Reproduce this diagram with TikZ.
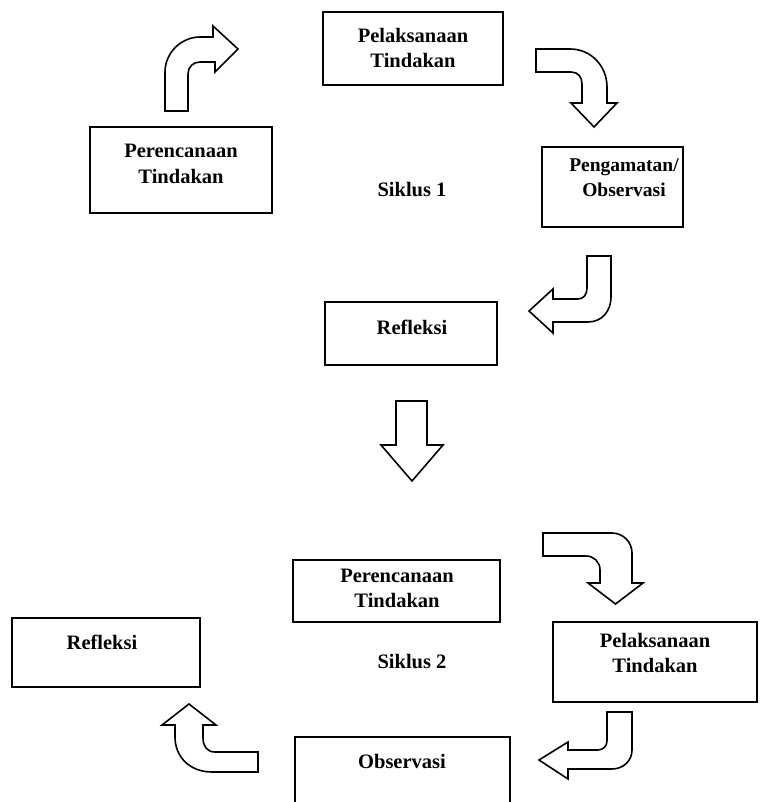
\documentclass[tikz,border=0pt]{standalone}
\usepackage{fontspec}
\setmainfont{Liberation Serif}
\begin{document}
\begin{tikzpicture}[x=1pt,y=-1pt,
  panel/.style={draw=black,line width=1.8pt,fill=white,inner sep=0pt,outer sep=0pt},
  lbl/.style={font=\fontsize{20.5}{25.5}\selectfont\bfseries,align=center,inner sep=0pt},
  barrow/.style={draw=black,line width=1.6pt,fill=white,line join=miter}]
\useasboundingbox (0,0) rectangle (760,802);
\clip (0,0) rectangle (760,802);
\fill[white] (0,0) rectangle (760,802);

% boxes
\node[panel,minimum width=180pt,minimum height=73pt] (b1) at (413,48.5) {};
\node[panel,minimum width=182pt,minimum height=86pt] (b2) at (181,170) {};
\node[panel,minimum width=141pt,minimum height=80pt] (b3) at (612.5,187) {};
\node[panel,minimum width=172pt,minimum height=63pt] (b4) at (411,333.5) {};
\node[panel,minimum width=207pt,minimum height=62pt] (b5) at (396.5,591) {};
\node[panel,minimum width=204pt,minimum height=80pt] (b6) at (655,662) {};
\node[panel,minimum width=188pt,minimum height=69pt] (b7) at (106,652.5) {};
\node[panel,minimum width=215pt,minimum height=80pt] (b8) at (402.5,777) {};

% texts
\node[lbl] (t1) at (413,48) {Pelaksanaan\\Tindakan};
\node[lbl] (t2) at (181,164) {Perencanaan\\Tindakan};
\node[lbl,font=\fontsize{19.5}{25.5}\selectfont\bfseries] (t3) at (624,177.5) {Pengamatan/\\Observasi};
\node[lbl] (t4) at (412,327) {Refleksi};
\node[lbl] (s1) at (412,190) {Siklus 1};
\node[lbl] (t5) at (397,588.5) {Perencanaan\\Tindakan};
\node[lbl] (t6) at (655,653) {Pelaksanaan\\Tindakan};
\node[lbl] (t7) at (102,642) {Refleksi};
\node[lbl] (s2) at (412,662) {Siklus 2};
\node[lbl] (t8) at (402,761) {Observasi};

% block arrows
% A: up then right
\draw[barrow] (165,111) -- (165,72) .. controls (165,53) and (181,37) .. (200,37)
  -- (213,37) -- (213,26) -- (238,49) -- (215,72) -- (215,62) -- (200,62)
  .. controls (193,62) and (188,67) .. (188,74) -- (188,111) -- cycle;
% B: right then down
\draw[barrow] (536,49) -- (570,49) .. controls (591,49) and (607,66) .. (607,87)
  -- (607,103) -- (617,103) -- (594,127) -- (571,103) -- (582,103) -- (582,84)
  .. controls (582,77) and (578,72) .. (571,72) -- (536,72) -- cycle;
% C: down then left
\draw[barrow] (587,256) -- (611,256) -- (611,297) .. controls (611,311) and (602,322) .. (588,322)
  -- (553,322) -- (553,333) -- (529,311) -- (553,289) -- (553,299) -- (578,299)
  .. controls (584,299) and (587,294) .. (587,288) -- cycle;
% D: straight down
\draw[barrow] (396,401) -- (427,401) -- (427,445) -- (443,445) -- (412,481) -- (381,445) -- (396,445) -- cycle;
% E: right then down
\draw[barrow] (543,533) -- (612,533) .. controls (623,533) and (632,542) .. (632,553)
  -- (632,583) -- (643,583) -- (615.5,604) -- (588,583) -- (600,583) -- (600,570)
  .. controls (600,562) and (594,556) .. (586,556) -- (543,556) -- cycle;
% F: down then left
\draw[barrow] (607,712) -- (632,712) -- (632,750) .. controls (632,761) and (623,769) .. (612,769)
  -- (568,769) -- (568,779) -- (539,760) -- (568,742) -- (568,750) -- (598,750)
  .. controls (603,750) and (607,746) .. (607,741) -- cycle;
% G: left then up
\draw[barrow] (258,752) -- (258,772) -- (212,772) .. controls (190,772) and (175,757) .. (175,737)
  -- (175,725) -- (162,725) -- (189,704) -- (216,725) -- (203,725) -- (203,738)
  .. controls (203,746) and (207,752) .. (215,752) -- cycle;
\end{tikzpicture}
\end{document}
